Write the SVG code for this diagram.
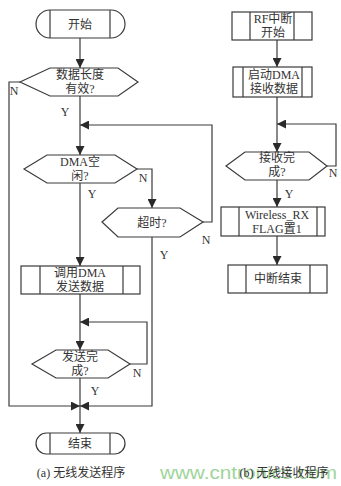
<svg xmlns="http://www.w3.org/2000/svg" width="341" height="486" viewBox="0 0 341 486">
<defs>
<marker id="ah" markerUnits="userSpaceOnUse" markerWidth="9" markerHeight="9" viewBox="0 0 9 9" refX="9" refY="4.5" orient="auto">
<path d="M0,0 L9,4.5 L0,9 Z" fill="#2a2a2a"/>
</marker>
<style>
.s{fill:none;stroke:#3a3a3a;stroke-width:1.2}
.b{fill:#fff;stroke:#3a3a3a;stroke-width:1.2}
.c{stroke:#3a3a3a;stroke-width:1.2;fill:none}
.t{font-family:"Liberation Serif","Noto Sans CJK SC",serif;font-size:12px;fill:#333;text-anchor:middle}
.l{font-family:"Liberation Serif",serif;font-size:12px;fill:#333;text-anchor:middle}
</style>
</defs>
<rect width="341" height="486" fill="#fff"/>
<g id="connectors">
<path class="c" d="M80,38 V68" marker-end="url(#ah)"/>
<path class="c" d="M80,96 V155" marker-end="url(#ah)"/>
<path class="c" d="M80,183 V266" marker-end="url(#ah)"/>
<path class="c" d="M80,294 V350" marker-end="url(#ah)"/>
<path class="c" d="M80,378 V406"/>
<path class="c" d="M80,406 V433" marker-end="url(#ah)"/>
<path class="c" d="M20,82 H9 V406 H80" marker-end="url(#ah)"/>
<path class="c" d="M137,169 H152 V208" marker-end="url(#ah)"/>
<path class="c" d="M152,237 V406 H80" marker-end="url(#ah)"/>
<path class="c" d="M203,222 H212 V125 H80" marker-end="url(#ah)"/>
<path class="c" d="M130,364 H147 V322 H80" marker-end="url(#ah)"/>
<path class="c" d="M277,40 V67" marker-end="url(#ah)"/>
<path class="c" d="M277,97 V152" marker-end="url(#ah)"/>
<path class="c" d="M277,180 V207" marker-end="url(#ah)"/>
<path class="c" d="M277,236 V265" marker-end="url(#ah)"/>
<path class="c" d="M327,166 H336 V124 H277" marker-end="url(#ah)"/>
</g>
<g id="labels">
<text class="l" x="14" y="95">N</text>
<text class="l" x="65" y="116">Y</text>
<text class="l" x="143" y="182">N</text>
<text class="l" x="92" y="198">Y</text>
<text class="l" x="164" y="259">Y</text>
<text class="l" x="206" y="244">N</text>
<text class="l" x="137" y="377">N</text>
<text class="l" x="95" y="395">Y</text>
<text class="l" x="333" y="177">N</text>
<text class="l" x="289" y="198">Y</text>
</g>
<g id="start">
<rect class="b" x="36" y="10" width="89" height="28" rx="14"/>
<path class="s" d="M50,10 V38 M110,10 V38"/>
<text class="t" x="80" y="29">开始</text>
</g>
<g id="check_len">
<polygon class="b" points="20,82 50,68 118,68 138,82 118,96 50,96"/>
<text class="t" x="80" y="79">数据长度</text>
<text class="t" x="80" y="93">有效?</text>
</g>
<g id="dma_idle">
<polygon class="b" points="24,169 47,155 115,155 137,169 115,183 47,183"/>
<text class="t" x="80" y="166">DMA空</text>
<text class="t" x="80" y="180">闲?</text>
</g>
<g id="timeout">
<polygon class="b" points="102,222 118,208 180,208 203,222 180,237 118,237"/>
<text class="t" x="152" y="227">超时?</text>
</g>
<g id="call_dma">
<rect class="b" x="21" y="266" width="119" height="28"/>
<path class="s" d="M40,266 V294 M123,266 V294"/>
<text class="t" x="80" y="277">调用DMA</text>
<text class="t" x="80" y="291">发送数据</text>
</g>
<g id="send_done">
<polygon class="b" points="32,364 56,350 108,350 130,364 108,378 56,378"/>
<text class="t" x="80" y="361">发送完</text>
<text class="t" x="80" y="375">成?</text>
</g>
<g id="end">
<rect class="b" x="36" y="433" width="89" height="21" rx="10.5"/>
<path class="s" d="M50,433 V454 M110,433 V454"/>
<text class="t" x="80" y="448">结束</text>
</g>
<g id="rf_start">
<rect class="b" x="232" y="12" width="80" height="28"/>
<path class="s" d="M250,12 V40 M294,12 V40"/>
<text class="t" x="273" y="23">RF中断</text>
<text class="t" x="273" y="37">开始</text>
</g>
<g id="start_dma">
<rect class="b" x="233" y="67" width="79" height="30"/>
<path class="s" d="M243,67 V97 M302,67 V97"/>
<text class="t" x="274" y="79">启动DMA</text>
<text class="t" x="274" y="93">接收数据</text>
</g>
<g id="recv_done">
<polygon class="b" points="226,166 245,152 309,152 327,166 309,180 245,180"/>
<text class="t" x="277" y="162">接收完</text>
<text class="t" x="277" y="176">成?</text>
</g>
<g id="set_flag">
<rect class="b" x="221" y="207" width="104" height="29"/>
<path class="s" d="M239,207 V236 M317,207 V236"/>
<text class="t" x="277" y="219">Wireless_RX</text>
<text class="t" x="277" y="233">FLAG置1</text>
</g>
<g id="int_end">
<rect class="b" x="228" y="265" width="99" height="28"/>
<path class="s" d="M246,265 V293 M310,265 V293"/>
<text class="t" x="278" y="283">中断结束</text>
</g>
<text x="160" y="479" font-family="Liberation Sans,sans-serif" font-size="18" fill="#9fd49a" textLength="177" lengthAdjust="spacingAndGlyphs">www.cntronics.com</text>
<text class="t" x="81" y="477">(a) 无线发送程序</text>
<text class="t" x="284" y="477">(b) 无线接收程序</text>
</svg>
